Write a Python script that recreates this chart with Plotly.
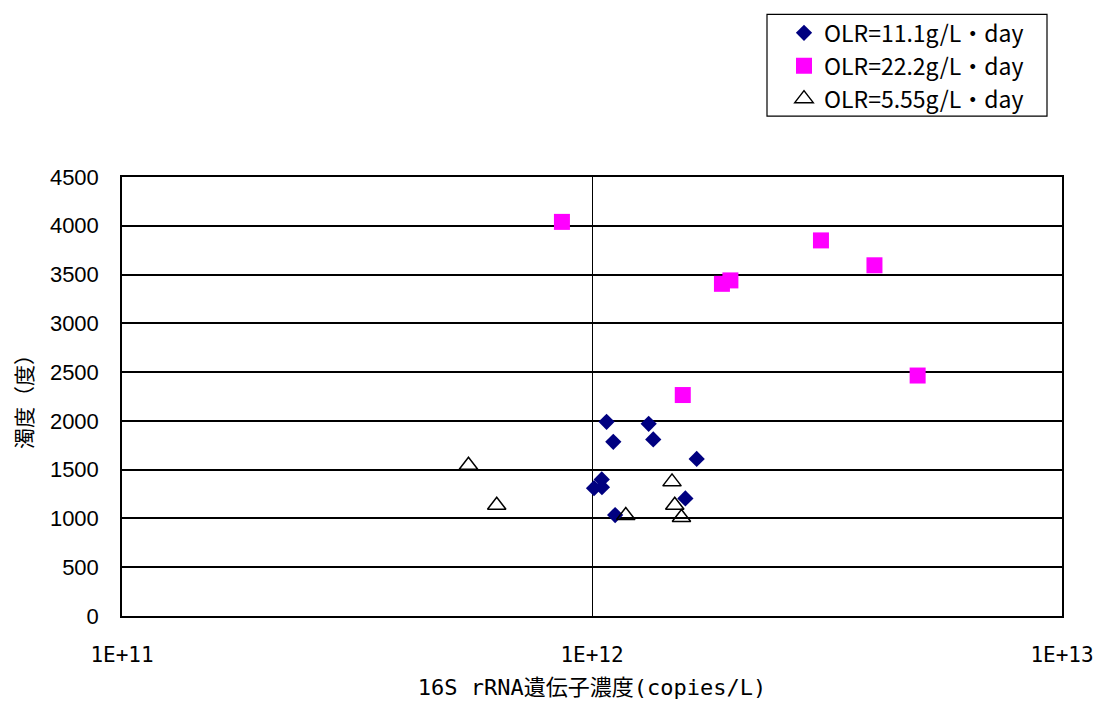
import plotly.graph_objects as go

# 16S rRNA gene concentration (copies/L) vs turbidity (度), by organic loading rate
olr11_x = [1.074e12, 1.32e12, 1.11e12, 1.35e12, 1.67e12, 1.049e12, 1.01e12, 1.05e12, 1.58e12, 1.12e12]
olr11_y = [1990, 1970, 1785, 1810, 1610, 1400, 1310, 1320, 1205, 1035]

olr22_x = [8.63e11, 3.07e12, 3.99e12, 1.89e12, 1.97e12, 4.93e12, 1.56e12]
olr22_y = [4040, 3850, 3595, 3405, 3440, 2465, 2265]

olr555_x = [5.46e11, 6.27e11, 1.18e12, 1.48e12, 1.50e12, 1.55e12]
olr555_y = [1545, 1135, 1030, 1375, 1135, 1010]

names = ["OLR=11.1g/L・day", "OLR=22.2g/L・day", "OLR=5.55g/L・day"]
y_ticks = [0, 500, 1000, 1500, 2000, 2500, 3000, 3500, 4000, 4500]
x_ticks = [1e11, 1e12, 1e13]
x_tick_text = ["1E+11", "1E+12", "1E+13"]

jp = "Noto Sans CJK JP"
mono_jp = "DejaVu Sans Mono, Noto Sans CJK JP"

fig = go.Figure()
fig.add_trace(go.Scatter(
    x=olr11_x, y=olr11_y, mode="markers", name=names[0],
    marker=dict(symbol="diamond", size=12.5, color="#000080", line=dict(width=0)),
))
fig.add_trace(go.Scatter(
    x=olr22_x, y=olr22_y, mode="markers", name=names[1],
    marker=dict(symbol="square", size=16, color="#FF00FF", line=dict(width=0)),
))
fig.add_trace(go.Scatter(
    x=olr555_x, y=olr555_y, mode="markers", name=names[2],
    marker=dict(symbol="triangle-up-open", size=16, color="#000000",
                line=dict(width=1.5, color="#000000")),
))

# legend frame
fig.add_shape(type="rect", xref="paper", yref="paper",
              x0=(767 - 122) / 940, x1=(1047 - 122) / 940,
              y0=(616 - 115) / 440, y1=(616 - 13) / 440,
              line=dict(color="black", width=1.2), fillcolor="rgba(0,0,0,0)")

fig.update_layout(
    width=1097, height=704,
    margin=dict(l=122, r=35, t=177, b=88, autoexpand=False),
    paper_bgcolor="white", plot_bgcolor="white",
    font=dict(family=jp, color="black", size=20),
    showlegend=True,
    legend=dict(
        x=(784 - 122) / 940, xanchor="left", y=(616 - 10) / 440, yanchor="top",
        borderwidth=0, bgcolor="rgba(0,0,0,0)",
        font=dict(family=jp, size=23, color="black"),
        itemwidth=30,
    ),
    xaxis=dict(
        type="log", range=[11, 13], automargin=False,
        tickvals=x_ticks, ticktext=x_tick_text,
        showgrid=True, gridcolor="black", gridwidth=1,
        showline=True, linecolor="black", linewidth=1.5, mirror=True,
        ticks="", ticklabelstandoff=19,
        tickfont=dict(family=mono_jp, size=21),
        zeroline=False,
        title=dict(text="16S rRNA遺伝子濃度(copies/L)", standoff=14,
                   font=dict(family=mono_jp, size=22)),
    ),
    yaxis=dict(
        range=[0, 4500], tickvals=y_ticks, automargin=False,
        showgrid=True, gridcolor="black", gridwidth=1.5,
        showline=True, linecolor="black", linewidth=1.5, mirror=True,
        ticks="", ticklabelstandoff=17,
        tickfont=dict(family="Liberation Sans", size=22),
        zeroline=False,
        title=dict(text="濁度（度）", standoff=12, font=dict(family=jp, size=21)),
    ),
)

fig.write_html("out.html")
